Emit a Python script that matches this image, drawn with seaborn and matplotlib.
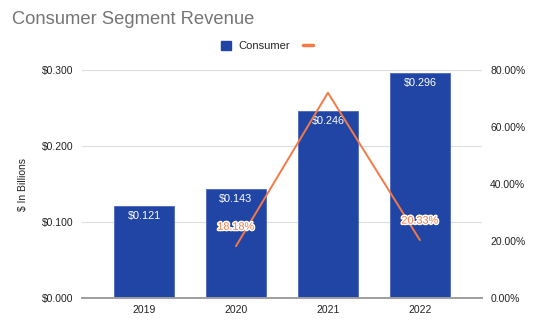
import matplotlib
matplotlib.use("Agg")
import matplotlib.pyplot as plt
import matplotlib.patheffects as pe
from matplotlib.ticker import FuncFormatter
from matplotlib.lines import Line2D
from matplotlib.patches import Patch
import seaborn as sns
import pandas as pd

years = ["2019", "2020", "2021", "2022"]
revenue = [0.121, 0.143, 0.246, 0.296]
growth_years = ["2020", "2021", "2022"]
growth = [0.1818, 0.7203, 0.2033]
growth_labels = ["18.18%", None, "20.33%"]

BLUE = "#2045a5"
ORANGE = "#f47a45"
TEXT = "#222222"

sns.set_theme(style="white")
plt.rcParams["font.family"] = ["Liberation Sans", "DejaVu Sans"]

fig = plt.figure(figsize=(5.36, 3.28), dpi=100)
ax = fig.add_axes([0.153, 0.0915, 0.746, 0.695])

df = pd.DataFrame({"year": years, "revenue": revenue})
sns.barplot(data=df, x="year", y="revenue", order=years, color=BLUE,
            saturation=1, width=0.65, edgecolor="#4a68bd", linewidth=0.6,
            ax=ax, zorder=3)

ax.set_ylim(0, 0.3)
ax.set_xlim(-0.674, 3.674)
ax.set_yticks([0, 0.1, 0.2, 0.3])
ax.yaxis.set_major_formatter(FuncFormatter(lambda v, p: f"${v:.3f}"))
ax.grid(axis="y", color="#dddddd", linewidth=0.8, zorder=0)
for s in ["top", "right", "left"]:
    ax.spines[s].set_visible(False)
ax.spines["bottom"].set_color("#9e9e9e")
ax.spines["bottom"].set_linewidth(1.4)
ax.spines["bottom"].set_zorder(4)
ax.tick_params(axis="both", length=0, labelsize=7.5, labelcolor=TEXT, pad=5)
ax.tick_params(axis="y", pad=6)
ax.set_xlabel("")
ax.set_ylabel("$ In Billions", fontsize=7.5, color=TEXT, labelpad=10)

for i, v in enumerate(revenue):
    ax.text(i, v - 0.006, f"${v:.3f}", ha="center", va="top",
            color="white", fontsize=7.8, zorder=6)

ax2 = ax.twinx()
pos = [years.index(y) for y in growth_years]
gdf = pd.DataFrame({"pos": pos, "growth": growth})
sns.lineplot(data=gdf, x="pos", y="growth", color=ORANGE, linewidth=1.4,
             ax=ax2, zorder=5)
ax2.set_ylim(0, 0.8)
ax2.set_xlim(ax.get_xlim())
ax2.set_yticks([0, 0.2, 0.4, 0.6, 0.8])
ax2.yaxis.set_major_formatter(FuncFormatter(lambda v, p: f"{v*100:.2f}%"))
ax2.tick_params(axis="y", length=0, labelsize=7.5, labelcolor=TEXT, pad=6)
ax2.set_ylabel("")
ax2.grid(False)
for s in ["top", "right", "left", "bottom"]:
    ax2.spines[s].set_visible(False)

for p, g, lab in zip(pos, growth, growth_labels):
    if lab:
        ax2.annotate(lab, (p, g), xytext=(0, 14), textcoords="offset points",
                     ha="center", va="center", color=ORANGE, fontsize=7.8,
                     zorder=7,
                     path_effects=[pe.withStroke(linewidth=2.2, foreground="white")])

fig.text(0.022, 0.94, "Consumer Segment Revenue", fontsize=13.2,
         color="#757575", ha="left", va="center")

handles = [Patch(facecolor=BLUE, edgecolor=BLUE),
           Line2D([0], [0], color=ORANGE, linewidth=2.5)]
fig.legend(handles, ["Consumer", ""], loc="center", bbox_to_anchor=(0.505, 0.86),
           ncol=2, frameon=False, fontsize=8, handlelength=0.9,
           handleheight=0.9, columnspacing=1.1, handletextpad=0.7)

fig.savefig("out.png", dpi=100)
